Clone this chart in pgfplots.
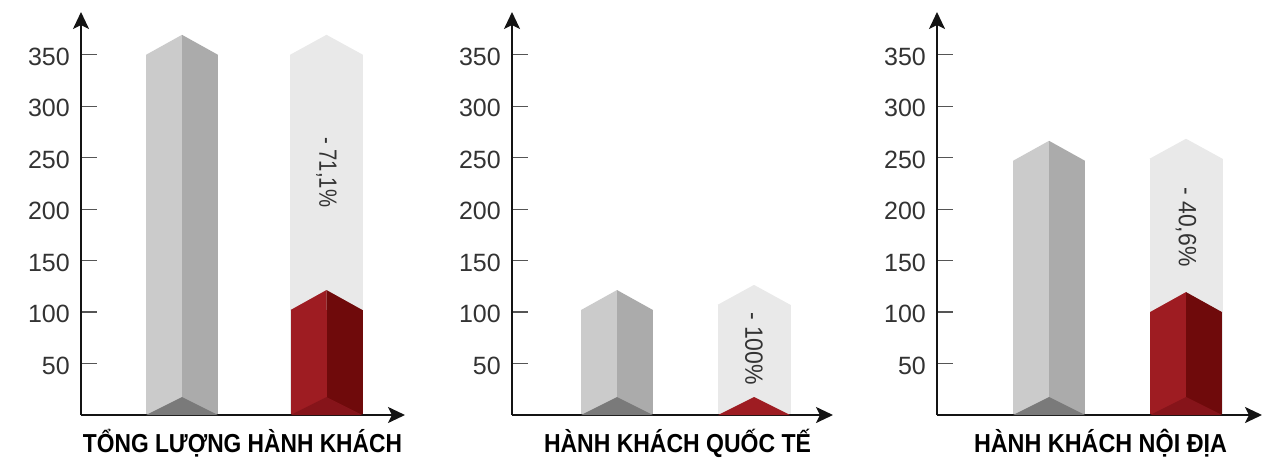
\documentclass[border=0pt]{standalone}
\usepackage{pgfplots}
\pgfplotsset{compat=1.18}
\usepackage{fontspec}
\setmainfont{Liberation Sans}
\usetikzlibrary{arrows.meta}
\tikzset{>={Stealth[length=17pt,width=16pt,inset=4pt]}}
\definecolor{gL}{HTML}{CBCBCB}
\definecolor{gR}{HTML}{ABABAB}
\definecolor{gB}{HTML}{7A7A7A}
\definecolor{ghost}{HTML}{E9E9E9}
\definecolor{rL}{HTML}{9E1C22}
\definecolor{rR}{HTML}{6F0A0B}
\definecolor{rB}{HTML}{86141A}
\definecolor{txt}{HTML}{333333}
\definecolor{axc}{HTML}{141414}
\definecolor{tkc}{HTML}{555555}

\pgfdeclareplotmark{roofL}{\pgfpathmoveto{\pgfpoint{-36pt}{0pt}}\pgfpathlineto{\pgfpoint{0pt}{20pt}}\pgfpathlineto{\pgfpoint{0pt}{0pt}}\pgfpathclose\pgfusepathqfill}
\pgfdeclareplotmark{roofR}{\pgfpathmoveto{\pgfpoint{36pt}{0pt}}\pgfpathlineto{\pgfpoint{0pt}{20pt}}\pgfpathlineto{\pgfpoint{0pt}{0pt}}\pgfpathclose\pgfusepathqfill}
\pgfdeclareplotmark{roof}{\pgfpathmoveto{\pgfpoint{-36.5pt}{0pt}}\pgfpathlineto{\pgfpoint{0pt}{20pt}}\pgfpathlineto{\pgfpoint{36.5pt}{0pt}}\pgfpathclose\pgfusepathqfill}
\pgfdeclareplotmark{base}{\pgfpathmoveto{\pgfpoint{-36pt}{0pt}}\pgfpathlineto{\pgfpoint{0pt}{18pt}}\pgfpathlineto{\pgfpoint{36pt}{0pt}}\pgfpathclose\pgfusepathqfill}

\pgfplotsset{
  panel/.style={
    scale only axis, anchor=south west, height=403pt,
    ymin=0, ymax=391.6, clip=false, axis on top,
    axis lines=left,
    axis line style={line width=2.2pt, color=axc},
    every outer x axis line/.append style={->},
    every outer y axis line/.append style={->},
    every inner x axis line/.append style={->},
    every inner y axis line/.append style={->},
    xtick=\empty,
    ytick={50,100,...,350},
    tick align=inside, major tick length=16pt,
    ytick style={color=tkc, line width=1.3pt},
    /pgf/number format/assume math mode=true,
    yticklabel style={font=\fontsize{25}{25}\selectfont, text=txt, inner sep=0pt, xshift=-11pt, yshift=-2pt},
  },
  lface/.style={ybar, bar width=36pt, bar shift=-18pt, draw=none, fill=#1},
  rface/.style={ybar, bar width=36pt, bar shift=18pt, draw=none, fill=#1},
  gface/.style={ybar, bar width=73pt, bar shift=0pt, draw=none, fill=#1},
  mk/.style 2 args={only marks, mark=#1, mark options={fill=#2, draw=none}},
}
\newcommand{\ttl}[2]{\resizebox{#1}{\height}{\fontsize{26}{26}\selectfont\bfseries #2}}
\newcommand{\pct}[2]{\resizebox{#1}{\height}{\fontsize{25}{25}\selectfont #2}}

\begin{document}
\begin{tikzpicture}
% Panel 1
\begin{axis}[panel, at={(81pt,44pt)}, width=324pt, xmin=0.3010, xmax=2.5433]
  \addplot[lface=gL] coordinates {(1,350)};
  \addplot[rface=gR] coordinates {(1,350)};
  \addplot[mk={roofL}{gL}] coordinates {(1,350)};
  \addplot[mk={roofR}{gR}] coordinates {(1,350)};
  \addplot[mk={base}{gB}] coordinates {(1,0)};
  \addplot[gface=ghost] coordinates {(2,350)};
  \addplot[mk={roof}{ghost}] coordinates {(2,350)};
  \addplot[lface=rL] coordinates {(2,102)};
  \addplot[rface=rR] coordinates {(2,102)};
  \addplot[mk={roofL}{rL}] coordinates {(2,102)};
  \addplot[mk={roofR}{rR}] coordinates {(2,102)};
  \addplot[mk={base}{rB}] coordinates {(2,0)};
  \node[rotate=-90, text=txt] at (axis cs:2,236) {\pct{70pt}{- 71,1\%}};
  \node[anchor=base, text=black, yshift=-37pt, xshift=-0.5pt] at (rel axis cs:0.5,0) {\ttl{319pt}{TỔNG LƯỢNG HÀNH KHÁCH}};
\end{axis}
% Panel 2
\begin{axis}[panel, at={(512pt,44pt)}, width=321pt, xmin=0.2336, xmax=2.5766]
  \addplot[lface=gL] coordinates {(1,102)};
  \addplot[rface=gR] coordinates {(1,102)};
  \addplot[mk={roofL}{gL}] coordinates {(1,102)};
  \addplot[mk={roofR}{gR}] coordinates {(1,102)};
  \addplot[mk={base}{gB}] coordinates {(1,0)};
  \addplot[gface=ghost] coordinates {(2,107)};
  \addplot[mk={roof}{ghost}] coordinates {(2,107)};
  \addplot[mk={base}{rL}] coordinates {(2,0)};
  \node[rotate=-90, text=txt] at (axis cs:2,64.6) {\pct{73pt}{- 100\%}};
  \node[anchor=base, text=black, yshift=-37pt, xshift=5pt] at (rel axis cs:0.5,0) {\ttl{267pt}{HÀNH KHÁCH QUỐC TẾ}};
\end{axis}
% Panel 3
\begin{axis}[panel, at={(937pt,44pt)}, width=325pt, xmin=0.1825, xmax=2.5547]
  \addplot[lface=gL] coordinates {(1,247)};
  \addplot[rface=gR] coordinates {(1,247)};
  \addplot[mk={roofL}{gL}] coordinates {(1,247)};
  \addplot[mk={roofR}{gR}] coordinates {(1,247)};
  \addplot[mk={base}{gB}] coordinates {(1,0)};
  \addplot[gface=ghost] coordinates {(2,249)};
  \addplot[mk={roof}{ghost}] coordinates {(2,249)};
  \addplot[lface=rL] coordinates {(2,100)};
  \addplot[rface=rR] coordinates {(2,100)};
  \addplot[mk={roofL}{rL}] coordinates {(2,100)};
  \addplot[mk={roofR}{rR}] coordinates {(2,100)};
  \addplot[mk={base}{rB}] coordinates {(2,0)};
  \node[rotate=-90, text=txt] at (axis cs:2,182.7) {\pct{79pt}{- 40,6\%}};
  \node[anchor=base, text=black, yshift=-37pt, xshift=1pt] at (rel axis cs:0.5,0) {\ttl{253pt}{HÀNH KHÁCH NỘI ĐỊA}};
\end{axis}
\pgfresetboundingbox
\useasboundingbox (0,0) rectangle (1281pt,459pt);
\end{tikzpicture}
\end{document}
